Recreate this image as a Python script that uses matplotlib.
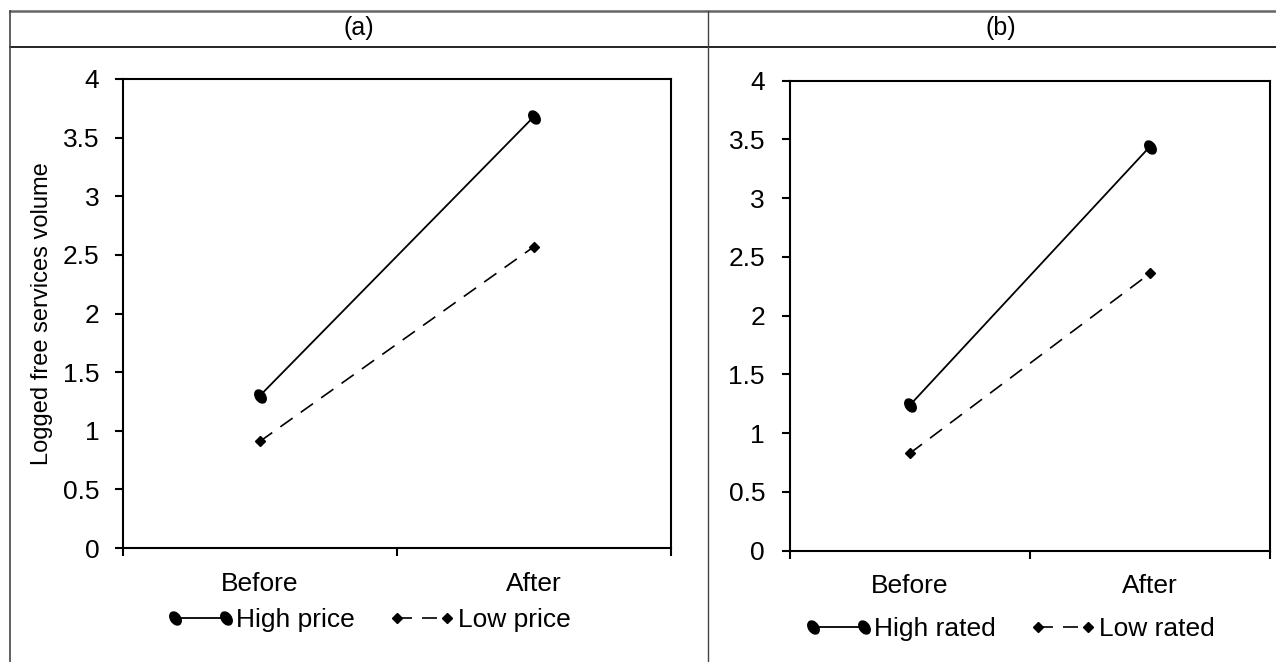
import numpy as np
import matplotlib
matplotlib.use("Agg")
from matplotlib import pyplot as plt
from matplotlib.lines import Line2D
from matplotlib.markers import MarkerStyle
from matplotlib.transforms import Affine2D

plt.rcParams['font.family'] = ['Liberation Sans', 'DejaVu Sans']
plt.rcParams['font.size'] = 19

categories = ["Before", "After"]

# panel (a)
high_price = [1.30, 3.68]
low_price = [0.91, 2.57]

# panel (b)
high_rated = [1.24, 3.44]
low_rated = [0.83, 2.36]

panels = [
    ("(a)", high_price, low_price, "High price", "Low price"),
    ("(b)", high_rated, low_rated, "High rated", "Low rated"),
]

W, H = 1276, 662
fig = plt.figure(figsize=(W / 100, H / 100), dpi=100)


def px_box(l, t, r, b):
    return [l / W, (H - b) / H, (r - l) / W, (b - t) / H]


boxes = [px_box(123, 79, 671, 548), px_box(790, 80.7, 1270, 550.7)]
legend_y = [620, 629]
legend_x = [369, 1010]
header_x = [359, 1001]

ellipse = MarkerStyle('o', transform=Affine2D().scale(0.78, 1.15).rotate_deg(35))

x = np.arange(len(categories)) + 0.5

for i, (tag, high, low, lab_hi, lab_lo) in enumerate(panels):
    ax = fig.add_axes(boxes[i])
    ax.plot(x, high, color="black", lw=1.3, marker=ellipse, ms=9,
            label=lab_hi)
    ax.plot(x, low, color="black", lw=1.2, ls=(0, (9, 6)), marker='D',
            ms=5.5, label=lab_lo)
    ax.set_xlim(0, len(categories))
    ax.set_ylim(0, 4)
    ax.set_yticks(np.arange(0, 4.01, 0.5))
    ax.set_yticklabels(["0", "0.5", "1", "1.5", "2", "2.5", "3", "3.5", "4"])
    ax.set_xticks([0, 1, 2])
    ax.set_xticklabels([])
    ax.set_xticks(x, minor=True)
    ax.set_xticklabels(categories, minor=True)
    ax.tick_params(axis='x', which='minor', length=0, pad=17, labelsize=19)
    ax.tick_params(axis='both', which='major', length=6, width=1.5,
                   direction='out', labelsize=19, color='black')
    ax.tick_params(axis='y', pad=11 if i == 0 else 12)
    for s in ax.spines.values():
        s.set_linewidth(1.5)
    if i == 0:
        ax.set_ylabel("Logged free services volume", fontsize=17)
        ax.yaxis.set_label_coords(-70 / 548, 0.5)

    fig.legend(handles=ax.get_lines(), loc='center',
               bbox_to_anchor=(legend_x[i] / W, 1 - legend_y[i] / H),
               ncol=2, frameon=False, fontsize=19, numpoints=2,
               handlelength=2.5, handletextpad=0.1, columnspacing=1.3)

    fig.text(header_x[i] / W, 1 - 28 / H, tag, ha='center', va='center',
             fontsize=18)

# table frame around the two panels
fig.add_artist(Line2D([10 / W, 1], [1 - 11 / H, 1 - 11 / H],
                      color='#666666', lw=1.8))
fig.add_artist(Line2D([10 / W, 1], [1 - 46.5 / H, 1 - 46.5 / H],
                      color='black', lw=1.2))
fig.add_artist(Line2D([10 / W, 10 / W], [0, 1 - 11 / H],
                      color='#444444', lw=1.2))
fig.add_artist(Line2D([708 / W, 708 / W], [0, 1 - 11 / H],
                      color='#444444', lw=1.0))

fig.savefig("out.png", dpi=100)
